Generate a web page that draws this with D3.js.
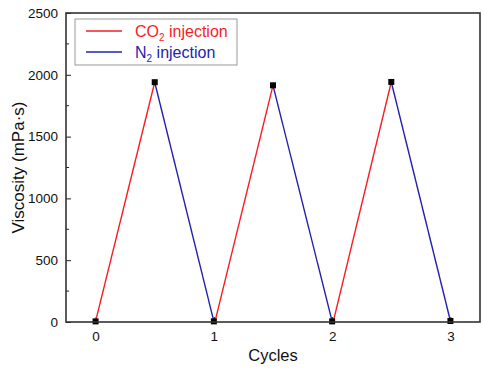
<!DOCTYPE html>
<html>
<head>
<meta charset="utf-8">
<script src="https://cdn.jsdelivr.net/npm/d3@7"></script>
<style>
  body { margin: 0; background: #fff; }
  text { font-family: Arial, "Liberation Sans", sans-serif; }
</style>
</head>
<body>
<svg id="chart" width="484" height="373"></svg>
<script>
// data
const co2X = [0, 0.5, 1.01, 1.5, 2.01, 2.5];
const co2Y = [5, 1940, 5, 1915, 5, 1942];
const n2X = [0.5, 1, 1.5, 2, 2.5, 3];
const n2Y = [1940, 5, 1915, 5, 1942, 8];
const markX = [0, 0.5, 1, 1.5, 2, 2.5, 3];
const markY = [5, 1940, 5, 1915, 5, 1942, 8];
const xTicks = [0, 1, 2, 3];
const yTicks = [0, 500, 1000, 1500, 2000, 2500];

const red = "#f51e26", blue = "#2323b0";
const margin = {top: 13, right: 4, bottom: 51, left: 66};
const W = 484, H = 373;
const w = W - margin.left - margin.right, h = H - margin.top - margin.bottom;

const svg = d3.select("#chart");
const g = svg.append("g").attr("transform", `translate(${margin.left},${margin.top})`);

const x = d3.scaleLinear().domain([-0.25, 3.25]).range([0, w]);
const y = d3.scaleLinear().domain([0, 2500]).range([h, 0]);

// y axis: inner ticks, minor at 250
const yAx = g.append("g").call(d3.axisLeft(y).tickValues(yTicks).tickSize(-5).tickPadding(8).tickFormat(d3.format("d")));
yAx.select(".domain").remove();
yAx.selectAll("line").attr("stroke", "#222");
yAx.selectAll("text").attr("font-size", 13.5).attr("fill", "#111");
g.append("g").selectAll("line").data(d3.range(250, 2500, 500)).join("line")
  .attr("x1", 0).attr("x2", 3).attr("y1", d => y(d)).attr("y2", d => y(d)).attr("stroke", "#222");

const xAx = g.append("g").attr("transform", `translate(0,${h})`)
  .call(d3.axisBottom(x).tickValues(xTicks).tickSize(-5).tickPadding(9).tickFormat(d3.format("d")));
xAx.select(".domain").remove();
xAx.selectAll("line").attr("stroke", "#222");
xAx.selectAll("text").attr("font-size", 13.5).attr("fill", "#111");

// lines
const pairs = (xs, ys) => xs.map((v, i) => [v, ys[i]]);
for (let i = 0; i < co2X.length; i += 2) {
  g.append("line").attr("x1", x(co2X[i])).attr("y1", y(co2Y[i]))
    .attr("x2", x(co2X[i + 1])).attr("y2", y(co2Y[i + 1]))
    .attr("stroke", red).attr("stroke-width", 1.4);
}
for (let i = 0; i < n2X.length; i += 2) {
  g.append("line").attr("x1", x(n2X[i])).attr("y1", y(n2Y[i]))
    .attr("x2", x(n2X[i + 1])).attr("y2", y(n2Y[i + 1]))
    .attr("stroke", blue).attr("stroke-width", 1.4);
}

// markers
g.append("g").selectAll("rect").data(pairs(markX, markY)).join("rect")
  .attr("x", d => x(d[0]) - 3).attr("y", d => y(d[1]) - 3)
  .attr("width", 6).attr("height", 6).attr("fill", "#000");

// frame
g.append("rect").attr("width", w).attr("height", h)
  .attr("fill", "none").attr("stroke", "#333").attr("stroke-width", 1.6);

// legend
const lg = g.append("g").attr("transform", `translate(${75 - margin.left},${19 - margin.top})`);
lg.append("rect").attr("width", 162).attr("height", 46).attr("fill", "#fff")
  .attr("stroke", "#999").attr("stroke-width", 1);
const legend = [
  {c: red, main: "CO", sub: "2", rest: " injection", y: 12},
  {c: blue, main: "N", sub: "2", rest: " injection", y: 33}
];
legend.forEach(d => {
  lg.append("line").attr("x1", 11).attr("x2", 47).attr("y1", d.y).attr("y2", d.y)
    .attr("stroke", d.c).attr("stroke-width", 1.4);
  const t = lg.append("text").attr("x", 60).attr("y", d.y + 6).attr("font-size", 16).attr("fill", d.c);
  t.append("tspan").text(d.main);
  t.append("tspan").attr("font-size", 10).attr("dy", 4).text(d.sub);
  t.append("tspan").attr("dy", -4).text(d.rest);
});

// axis titles
svg.append("text").attr("x", margin.left + x(1.5)).attr("y", 361)
  .attr("text-anchor", "middle").attr("font-size", 16.5).attr("fill", "#111").text("Cycles");
svg.append("text").attr("transform", `translate(24,${margin.top + h / 2}) rotate(-90)`)
  .attr("text-anchor", "middle").attr("font-size", 17).attr("fill", "#111").text("Viscosity (mPa·s)");
</script>
</body>
</html>
